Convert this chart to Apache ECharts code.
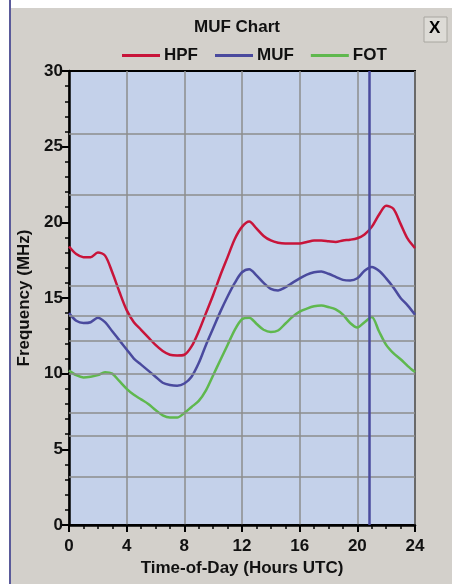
<!DOCTYPE html>
<html>
<head>
<meta charset="utf-8">
<script src="https://cdn.jsdelivr.net/npm/echarts@6/dist/echarts.min.js"></script>
<style>
html,body{margin:0;padding:0;background:#ffffff;}
#c{width:452px;height:584px;}
</style>
</head>
<body>
<div id="c"></div>
<script>
var hours = [0,0.5,1,1.5,2,2.5,3,3.5,4,4.5,5,5.5,6,6.5,7,7.5,8,8.5,9,9.5,10,10.5,11,11.5,12,12.5,13,13.5,14,14.5,15,15.5,16,16.5,17,17.5,18,18.5,19,19.5,20,20.5,21,21.5,22,22.5,23,23.5,24];
var hpf = [18.4,17.9,17.7,17.7,18.0,17.8,16.7,15.4,14.2,13.4,12.9,12.4,11.9,11.5,11.25,11.2,11.25,11.8,12.8,14.0,15.2,16.5,17.7,18.9,19.7,20.05,19.6,19.1,18.8,18.65,18.6,18.6,18.6,18.7,18.8,18.8,18.75,18.7,18.8,18.85,18.95,19.2,19.7,20.5,21.1,20.9,19.9,18.9,18.3];
var muf = [14.0,13.5,13.35,13.4,13.7,13.4,12.8,12.2,11.6,11.0,10.6,10.2,9.8,9.4,9.25,9.2,9.35,9.8,10.7,11.9,13.0,14.1,15.1,16.0,16.7,16.9,16.5,16.0,15.6,15.5,15.7,16.0,16.3,16.55,16.7,16.75,16.6,16.4,16.2,16.15,16.3,16.8,17.05,16.8,16.3,15.7,15.0,14.5,13.9];
var fot = [10.2,9.9,9.75,9.8,9.9,10.1,10.0,9.5,9.0,8.6,8.3,8.0,7.6,7.25,7.1,7.1,7.4,7.8,8.2,8.9,9.9,10.9,11.9,12.9,13.6,13.7,13.3,12.9,12.75,12.85,13.3,13.75,14.1,14.3,14.45,14.5,14.4,14.25,13.9,13.35,13.05,13.4,13.75,12.8,11.9,11.35,10.95,10.5,10.1];
var bandLines = [3.17,5.92,7.44,9.98,12.18,13.82,15.82,21.82,25.85];
var nowHour = 20.85;

function pairs(v){ return hours.map(function(h,i){ return [h, v[i]]; }); }

var FONT = 'Liberation Sans, Arial, sans-serif';
var chart = echarts.init(document.getElementById('c'));
chart.setOption({
  animation: false,
  backgroundColor: '#ffffff',
  graphic: [
    {type:'rect', shape:{x:11,y:8,width:441,height:576}, style:{fill:'#d3d0cb'}, z:-10},
    {type:'line', shape:{x1:10,y1:0,x2:10,y2:584}, style:{stroke:'#5a5a9a',lineWidth:2}, z:-9},
    {type:'rect', shape:{x:424,y:17,width:23,height:25}, style:{fill:'#dddbd6',stroke:'#a8a6a0',lineWidth:1}, z:5},
    {type:'text', left:429, top:20, style:{text:'X', font:'bold 17px Liberation Sans, Arial, sans-serif', fill:'#000'}, z:6}
  ],
  title: {
    text: 'MUF Chart', left: 232, top: 14, textAlign: 'center',
    textStyle: {fontFamily: FONT, fontWeight: 'bold', fontSize: 17, color: '#111'}
  },
  legend: {
    left: 117, top: 42, itemGap: 17, itemWidth: 38, itemHeight: 3, icon: 'rect',
    textStyle: {fontFamily: FONT, fontWeight: 'bold', fontSize: 17, color: '#111', padding:[0,0,0,-1]},
    data: ['HPF','MUF','FOT']
  },
  grid: {
    left: 69, right: 37, top: 71, bottom: 59, show: true,
    backgroundColor: '#c4d1ea', borderColor: '#000', borderWidth: 2
  },
  xAxis: {
    type: 'value', min: 0, max: 24, interval: 4,
    name: 'Time-of-Day (Hours UTC)', nameLocation: 'middle', nameGap: 35,
    nameTextStyle: {fontFamily: FONT, fontWeight: 'bold', fontSize: 17, color: '#111'},
    axisLine: {lineStyle: {color: '#000', width: 2.5}},
    axisTick: {show: true, length: 7, lineStyle: {color: '#000', width: 2}},
    minorTick: {show: true, splitNumber: 4, length: 4, lineStyle: {color: '#000', width: 1.5}},
    axisLabel: {fontFamily: FONT, fontWeight: 'bold', fontSize: 17, color: '#111', margin: 13},
    splitLine: {show: true, lineStyle: {color: '#8c8c8c', width: 1.5}}
  },
  yAxis: {
    type: 'value', min: 0, max: 30, interval: 5,
    name: 'Frequency (MHz)', nameLocation: 'middle', nameGap: 34,
    nameTextStyle: {fontFamily: FONT, fontWeight: 'bold', fontSize: 17, color: '#111'},
    axisLine: {show: true, lineStyle: {color: '#000', width: 2.5}},
    axisTick: {show: true, length: 7, lineStyle: {color: '#000', width: 2}},
    minorTick: {show: true, splitNumber: 5, length: 4, lineStyle: {color: '#000', width: 1.5}},
    axisLabel: {fontFamily: FONT, fontWeight: 'bold', fontSize: 17, color: '#111', margin: 6},
    splitLine: {show: false}
  },
  series: [
    {
      name: 'grid', type: 'line', data: [], silent: true,
      markLine: {
        silent: true, symbol: 'none', label: {show: false},
        lineStyle: {color: '#8c8c8c', width: 1.5, type: 'solid'},
        data: bandLines.map(function(v){ return {yAxis: v}; })
      }
    },
    {name: 'HPF', type: 'line', data: pairs(hpf), showSymbol: false, smooth: 0.3,
     lineStyle: {color: '#c8143a', width: 2.5}, itemStyle: {color: '#c8143a'}, z: 4},
    {name: 'MUF', type: 'line', data: pairs(muf), showSymbol: false, smooth: 0.3,
     lineStyle: {color: '#4a4a9e', width: 2.5}, itemStyle: {color: '#4a4a9e'}, z: 4},
    {name: 'FOT', type: 'line', data: pairs(fot), showSymbol: false, smooth: 0.3,
     lineStyle: {color: '#5fb84e', width: 2.5}, itemStyle: {color: '#5fb84e'}, z: 4,
     markLine: {
       silent: true, symbol: 'none', label: {show: false},
       lineStyle: {color: '#4a4a9e', width: 2.5, type: 'solid'},
       data: [{xAxis: nowHour}]
     }}
  ]
});
</script>
</body>
</html>
